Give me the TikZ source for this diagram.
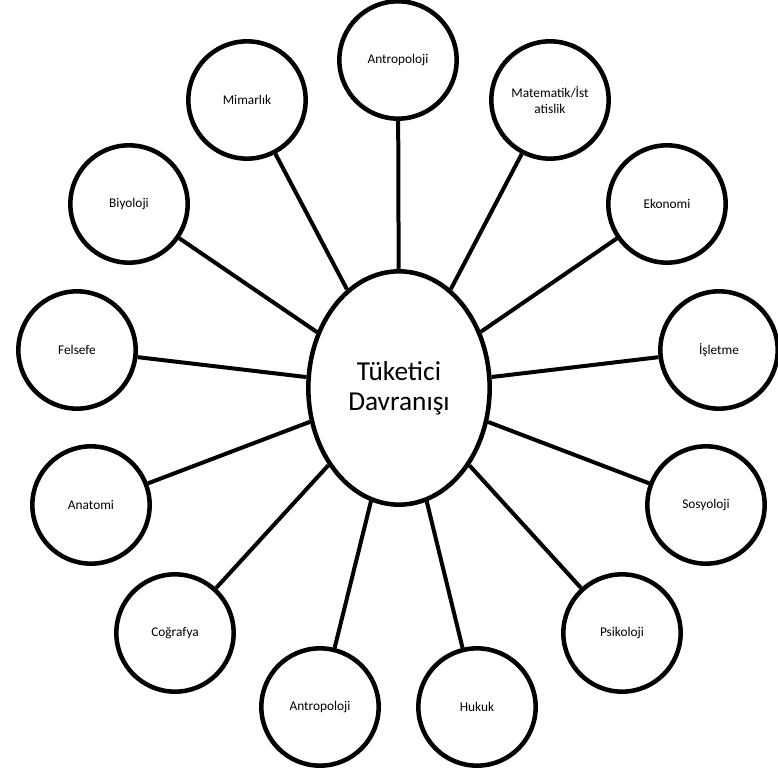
\documentclass[tikz,border=0pt]{standalone}
\usepackage{fontspec}
\setmainfont{Carlito}
\usetikzlibrary{shapes.geometric}
\tikzset{every node/.style={font=\fontsize{10}{11.5}\selectfont},
  konu/.style={draw,circle,fill=white,line width=3.4pt,minimum size=88pt,inner sep=0pt,align=center},
  merkez/.style={draw,ellipse,fill=white,line width=3.4pt,minimum width=136pt,minimum height=175pt,inner sep=0pt,align=center,font=\fontsize{20.5}{22.5}\selectfont},
  bag/.style={line width=3pt}}

\begin{document}
\begin{tikzpicture}[x=0.75pt,y=-0.75pt]
\useasboundingbox (0,0) rectangle (778,773);
\node[merkez] (td) at (399,388) {Tüketici\\Davranışı};
% cevredeki alanlar
\foreach \n/\x/\y/\t in {antro/398/60/Antropoloji,mimar/247/100/Mimarlık,biyo/129/204/Biyoloji,
  fels/77/350/Felsefe,anat/91/505/Anatomi,cog/175/633/Coğrafya,antrob/320/707/Antropoloji,
  hukuk/477/707/Hukuk,psiko/622/633/Psikoloji,sosyo/706/505/Sosyoloji,islet/719/350/İşletme,
  eko/667/204/Ekonomi}{\node[konu] (\n) at (\x,\y) {\t};\draw[bag] (\n)--(td);}
\node[konu] (mat) at (550,100) {Matematik/İst\\atislik};\draw[bag] (mat)--(td);
\end{tikzpicture}
\end{document}
